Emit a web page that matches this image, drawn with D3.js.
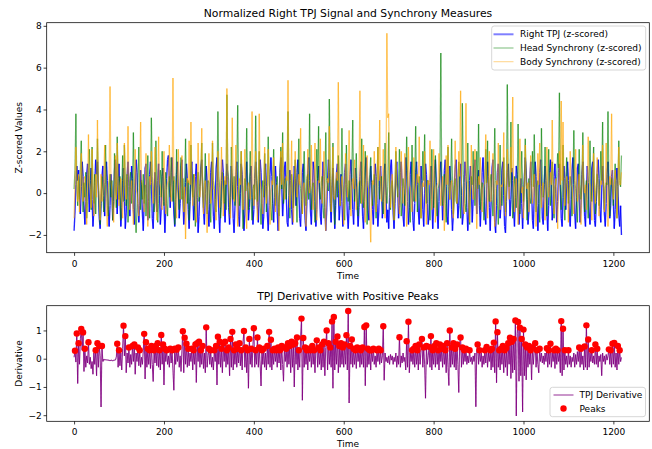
<!DOCTYPE html>
<html><head><meta charset="utf-8">
<script src="https://cdn.jsdelivr.net/npm/d3@7"></script>
<style>
body{margin:0;background:#fff}
svg{display:block}
text{font-family:"DejaVu Sans",sans-serif;fill:#000}
</style>
</head><body>
<svg id="c" width="652" height="449"></svg>
<script>
// ---- data (all series sampled every 2 time units) ----
const topStep = 2;
const derivStep = 2;
const timeRange = [0, 1219];

const tpj = [
-1.8,-0.9,0.4,1.3,0.6,1.1,-0.2,-1.0,0.3,1.5,0.8,-0.6,-1.5,-0.4,0.9,1.4,0.2,-0.9,0.6,1.2,-0.3,-1.6,-0.8,0.5,1.6,0.9,1.5,0.1,-1.2,-1.7,-0.5,0.8,1.3,-0.1,-1.1,0.4,1.5,0.6,-0.8,-1.6,-0.6,0.9,0.2,-1.3,-0.4,1.1,1.6,0.3,-1.0,0.7,
1.4,-0.2,-1.6,-0.7,0.6,1.2,-0.4,-1.7,-0.9,0.8,1.5,0.3,-1.1,0.2,1.3,0.7,-0.8,-1.5,0.1,1.6,1.0,-0.5,-1.4,-0.6,1.1,0.4,-1.0,-1.8,-0.3,1.2,1.4,0.0,-1.3,-0.4,0.9,1.5,0.5,-1.2,-1.7,-0.2,1.0,0.3,-0.9,0.6,1.4,-0.1,-1.5,-0.7,0.8,1.2,
-0.4,-1.9,-0.8,0.7,1.6,1.8,0.6,-0.7,1.0,1.7,0.4,-1.0,-1.6,-0.3,0.9,1.5,0.2,-1.2,-0.5,1.3,1.6,-0.1,-1.5,-0.9,0.5,1.4,0.7,-0.8,-1.7,-0.4,1.1,1.5,0.1,-1.3,-0.6,0.8,1.4,-0.2,-1.9,-1.1,0.3,1.2,1.6,0.4,-0.9,-1.5,0.0,1.3,0.6,-0.8,
-1.6,-0.5,1.0,1.5,0.2,-1.1,-1.7,-0.3,1.2,1.7,0.5,-0.9,-1.9,-0.8,0.6,1.6,1.0,-0.4,-1.4,0.1,1.4,0.8,-0.7,-1.5,-0.2,1.3,0.4,-1.2,-1.9,-0.6,0.9,1.5,0.3,-1.1,-1.6,0.0,1.4,0.9,-0.6,-1.8,-1.0,0.5,1.5,0.2,-1.3,-0.7,0.8,1.3,-0.2,-1.5,
-0.8,0.7,1.5,0.6,-0.6,-1.4,0.1,1.6,1.0,-0.5,-1.7,-1.1,0.4,1.4,0.3,-1.0,-1.8,-0.6,0.9,1.7,0.8,-0.5,-1.4,-0.2,1.3,0.5,-0.9,-1.8,-0.7,1.0,1.7,0.4,-1.1,-0.3,1.2,1.5,0.0,-1.4,-1.6,-0.1,1.1,0.6,-0.8,-1.5,0.2,1.3,0.7,-0.6,1.0,1.6,
0.2,-1.2,-1.6,-0.3,1.0,1.4,0.1,-1.3,-1.8,-0.4,1.1,1.7,0.6,-0.9,-1.5,0.0,1.5,1.1,-0.4,-1.6,-0.8,0.7,1.3,0.2,-1.1,-1.5,0.3,1.5,0.8,-0.7,-1.8,-0.9,0.6,1.6,1.0,-0.5,-1.4,0.2,1.2,-0.1,-1.7,-0.6,1.0,1.4,0.0,-1.3,-0.5,0.9,-0.4,-1.6,
-0.5,1.0,1.4,0.4,-1.0,-1.7,-0.6,0.9,1.6,0.5,-0.8,-1.5,-0.2,1.2,0.7,-0.6,-1.6,-0.7,0.8,1.5,0.3,-1.1,-1.7,-0.4,1.2,1.7,0.6,-0.9,-1.3,0.2,1.3,0.5,-0.8,-1.5,0.1,1.4,0.8,-0.5,-1.6,-0.9,0.6,1.3,0.2,-1.2,-0.4,1.1,1.4,-0.1,-1.4,-0.8,
-1.7,-0.2,1.2,1.6,0.4,-1.0,-1.7,-0.5,0.9,1.5,0.2,-1.2,-0.6,1.0,1.5,0.3,-1.1,-1.6,0.0,1.7,1.1,-0.4,-1.5,-0.7,0.9,1.5,0.2,-1.3,-1.8,-0.5,1.0,1.5,0.4,-0.9,-1.5,-0.2,1.3,0.6,-0.8,-1.6,0.0,1.4,0.9,-0.5,-1.5,-1.0,0.5,1.3,-0.3,-1.7,
-0.6,1.1,1.6,0.5,-0.9,-1.7,-0.4,1.0,1.5,0.1,-1.3,-0.5,1.1,1.6,0.3,-1.1,-1.5,0.0,1.3,0.6,-0.8,-1.8,-1.0,0.4,1.2,1.6,0.2,-1.2,-0.6,0.9,1.4,-0.1,-1.5,-1.0,0.5,1.5,0.8,-0.7,-1.8,-0.9,0.6,1.3,0.1,-1.4,-0.3,1.2,1.6,0.4,-1.0,0.7,
1.1,-0.6,-1.6,-0.4,1.0,1.7,0.5,-1.0,-1.5,0.1,1.5,0.8,-0.7,-1.8,-0.3,1.2,1.6,0.0,-1.4,-1.9,-0.6,1.0,1.4,0.3,-1.2,-0.5,1.1,1.5,-0.1,-1.6,-1.9,-0.4,1.0,1.4,0.2,-1.1,-0.3,1.2,0.6,-0.9,-1.6,-0.2,1.3,0.9,-0.6,-1.5,-0.8,0.7,-0.5,-1.7,
-0.7,0.8,1.7,1.1,-0.3,-1.5,-0.9,0.6,1.5,0.2,-1.3,-1.7,0.1,1.5,0.8,-0.6,-1.8,-0.5,1.0,1.6,0.3,-1.2,-1.5,0.4,1.3,0.6,-0.9,-1.8,-0.6,1.1,1.6,0.2,-1.3,-0.7,0.8,1.4,0.0,-1.4,-0.4,1.0,1.4,0.1,-1.2,-1.6,-0.2,1.3,0.7,-0.8,0.5,1.5,
0.6,-1.0,-1.6,-0.3,1.1,1.7,0.4,-1.0,-1.7,-0.2,1.2,1.4,0.0,-1.4,-0.6,0.9,1.5,0.3,-1.1,-1.6,0.1,1.3,0.5,-0.9,-1.5,-0.3,1.2,1.5,0.2,-1.3,-1.6,-0.4,1.0,1.6,0.7,-0.8,-1.4,0.1,1.3,0.4,-1.0,-1.6,-0.5,0.9,1.5,0.2,-1.2,-0.6,0.8,1.1,
-0.5,-1.7,-0.8,0.6,1.2,0.3,-1.0,-1.6,-0.6,-2.0
];

const headSync = [
0.2,1.1,3.8,0.4,-0.6,0.8,-0.3,1.2,2.5,0.1,-0.9,0.5,-0.2,1.0,-1.2,-0.4,0.7,2.1,0.3,-0.8,2.2,0.2,-0.5,0.9,-1.0,0.4,2.6,0.6,-0.7,-1.5,-0.4,0.8,0.1,-0.9,0.5,2.3,0.2,-0.6,-1.1,0.3,0.9,-0.2,0.6,-1.3,-0.5,1.9,0.4,-0.7,2.7,0.5,
-0.3,0.8,-1.3,0.1,1.8,-0.4,2.3,0.4,-0.6,0.9,-1.4,-0.2,0.7,1.0,-0.5,0.3,2.9,0.2,-1.0,-1.9,-0.7,0.5,2.2,0.1,-0.8,0.6,-0.3,0.9,-0.5,0.4,-1.1,0.2,1.8,-0.2,-1.2,0.5,3.6,0.8,0.2,-0.9,-0.3,2.5,0.4,-1.4,-0.5,0.6,1.1,-0.2,2.0,0.3,
-0.6,0.4,1.0,-0.5,-1.1,0.3,0.8,-0.2,1.7,0.5,-0.4,0.8,-1.5,-0.6,2.1,0.2,0.0,-0.8,0.6,1.7,-0.3,0.7,-0.9,0.4,2.6,0.3,-0.5,0.6,-1.3,-0.2,2.3,0.4,-0.2,0.9,-0.6,-1.6,-0.3,0.4,1.0,-0.4,0.2,0.9,2.4,0.1,-0.7,0.5,1.9,-0.3,-1.0,0.6,
0.5,-0.4,-1.4,0.2,2.4,0.6,0.2,-0.7,-0.9,0.5,3.9,0.8,0.3,-1.2,-0.4,1.0,0.2,-0.5,0.6,-0.8,4.7,1.1,0.6,-1.0,-0.2,2.2,0.5,-0.3,0.8,-0.6,0.3,1.0,4.2,0.4,-0.6,0.7,2.0,-0.5,-1.7,-0.4,0.7,0.1,3.1,0.6,-0.8,0.3,2.0,-0.4,-1.3,0.2,
0.4,-0.3,3.7,0.6,-0.4,0.9,2.0,-0.6,-1.5,0.1,0.6,-0.2,1.9,0.3,-0.9,0.5,2.7,0.4,0.1,-0.8,-1.3,0.2,2.1,0.5,-0.6,0.3,0.8,-0.4,-1.1,0.6,2.2,0.2,2.9,-0.5,0.4,0.7,-0.3,0.9,3.9,0.5,-1.2,-0.2,0.9,0.3,-0.7,0.4,1.6,-0.1,-1.4,0.5,
2.6,0.6,0.2,-0.5,-1.0,0.4,2.0,0.2,-0.6,0.7,0.9,-0.3,3.8,0.5,-0.8,0.2,0.5,-0.6,-1.4,0.3,2.1,0.6,3.2,0.1,-0.3,0.5,0.8,-0.7,-1.2,0.4,2.9,0.6,0.4,0.1,4.5,0.7,-0.9,0.4,2.4,-0.5,-1.5,0.2,0.7,-0.2,1.8,0.5,-0.6,0.3,3.1,0.4,
-0.2,-1.3,0.4,2.3,0.3,-0.4,0.6,-0.8,0.2,1.0,3.5,0.3,-0.4,0.6,1.9,-0.2,-1.1,0.3,0.6,-0.5,2.6,0.4,-0.7,0.6,2.0,0.1,-1.5,-0.4,0.4,0.9,1.7,0.2,-0.6,0.5,0.9,-0.3,-1.2,0.4,2.2,0.3,-0.3,0.6,0.8,-0.4,-1.0,0.2,2.4,0.4,-0.5,0.3,
2.9,0.5,-0.8,0.3,0.6,-0.4,-1.3,0.2,2.0,0.6,-0.2,0.5,2.1,0.3,-1.1,-0.3,0.7,0.2,-0.6,0.4,2.7,0.8,0.1,-0.6,-1.4,0.2,2.3,0.5,-0.4,0.6,3.2,0.4,-0.9,0.3,0.8,-0.3,-1.2,0.4,2.0,0.6,2.8,0.3,-0.5,0.6,0.6,-0.4,-1.3,0.2,2.1,0.5,
-0.7,0.4,1.8,-0.3,-1.1,0.2,0.4,0.9,6.7,0.8,-0.6,0.3,0.9,-0.5,-1.4,0.4,2.2,0.3,-0.3,0.6,2.6,0.5,-1.0,0.2,0.7,-0.4,-0.5,0.6,1.5,0.2,-1.2,0.5,4.3,0.9,0.2,-0.5,-0.9,0.4,2.4,0.3,-1.5,-0.2,0.8,0.4,2.0,0.3,-0.6,0.5,2.0,0.2,
3.3,0.6,-0.8,0.2,0.5,-0.4,-1.3,0.3,2.1,0.5,2.5,0.3,-0.4,0.6,0.9,-0.3,-1.1,0.4,3.1,0.6,0.2,-0.5,-1.5,0.3,2.3,0.4,-0.6,0.2,1.7,0.3,-0.9,0.4,5.2,0.9,0.3,0.6,3.4,0.2,-1.2,-0.3,0.8,0.2,-0.7,0.4,3.3,0.5,-1.0,0.3,2.0,0.4,
-0.4,0.5,2.6,0.4,-1.3,0.2,0.7,-0.2,-0.5,0.6,2.0,0.3,2.8,0.4,-0.9,0.3,0.6,-0.4,-1.4,0.2,3.1,0.5,-0.2,0.4,2.2,0.3,-1.1,0.2,2.1,0.3,-0.6,0.4,1.5,0.2,-1.2,0.3,0.4,0.8,1.9,1.2,4.8,0.6,-0.8,0.4,2.3,-0.3,-1.3,0.3,1.7,0.4,
-0.5,0.3,0.8,0.2,-1.1,0.4,3.0,0.6,0.2,-0.4,-1.4,0.3,2.1,0.4,-0.3,0.5,2.9,0.4,-0.9,0.2,0.6,-0.3,-1.2,0.4,2.5,0.3,-0.4,0.5,2.2,0.2,-1.0,0.3,0.9,0.4,-0.6,0.2,2.0,0.6,3.4,0.5,-0.8,0.2,0.5,0.4,3.9,0.6,-1.1,0.3,0.7,0.2,
-0.6,0.4,1.4,0.3,-1.2,0.2,2.5,0.6,0.3,1.8
];

const bodySync = [
-1.2,0.3,2.2,0.6,-0.4,0.9,-0.9,0.2,1.9,0.4,-0.4,0.7,0.8,-0.6,-1.5,0.2,2.8,0.5,0.2,-0.7,2.1,0.3,-1.1,0.4,0.9,-0.2,3.5,0.5,-0.3,-1.3,0.9,-0.4,-0.2,0.6,2.3,0.2,-0.9,-1.6,0.3,0.7,5.1,0.6,0.1,-0.8,-1.4,0.2,1.8,-0.3,2.4,0.4,
-0.6,0.4,0.7,-0.5,-1.2,0.3,2.4,0.5,-0.3,0.6,3.2,0.4,-0.8,0.2,0.6,-0.4,-1.5,0.3,2.1,0.2,0.0,-0.6,-1.1,0.4,3.4,0.6,0.4,-0.5,-0.9,0.3,1.9,0.2,-1.6,-0.3,0.8,0.4,2.0,0.3,-0.5,0.6,2.2,-0.2,-1.3,0.3,2.7,0.5,0.3,-0.6,-0.8,0.4,
2.0,0.3,-1.0,0.2,0.5,0.6,2.3,0.4,-0.4,0.2,5.5,0.6,0.6,-0.5,-1.2,0.3,2.1,0.2,-0.3,0.5,1.8,-0.2,-0.9,0.3,-2.2,-0.4,0.7,0.5,2.5,0.4,3.4,0.5,-0.6,0.3,0.9,-0.5,-1.4,0.2,2.4,0.4,-0.2,0.3,3.1,0.4,-1.0,0.2,0.6,-0.5,-1.9,0.3,
1.9,0.4,-0.5,0.3,2.5,0.2,0.2,-0.6,-1.3,0.4,2.0,0.3,-0.7,0.5,2.2,0.4,-1.1,0.2,0.8,0.4,5.0,0.7,0.3,-0.5,-1.2,0.4,3.6,0.5,-0.4,0.3,2.3,-0.5,-1.6,0.2,0.7,0.4,2.0,0.3,-0.8,0.4,2.1,-0.4,-1.7,0.2,0.5,0.3,-0.3,0.6,3.9,0.5,
-0.6,0.4,2.0,-0.3,-1.3,0.2,3.8,0.6,0.2,-0.5,-1.0,0.3,2.2,0.4,-0.5,0.3,2.1,0.4,-1.5,-0.2,0.6,0.4,1.7,0.5,-0.9,0.2,0.4,-0.6,-1.8,0.3,2.0,0.4,2.4,0.5,-0.3,0.4,0.8,0.6,5.4,0.5,-0.7,0.3,2.5,-0.4,-1.4,0.2,2.0,0.4,-0.2,0.3,
0.9,0.4,3.1,0.5,-1.0,0.3,0.5,-0.6,-1.6,0.2,2.1,0.4,0.0,0.3,2.3,0.4,-0.8,0.3,2.4,-0.4,-1.3,0.2,0.6,0.5,2.6,0.4,-0.5,0.3,2.0,-0.6,-1.8,0.2,0.7,0.5,3.2,0.6,-0.9,0.3,2.2,-0.2,-0.3,0.4,1.0,0.6,5.3,0.5,-0.6,0.3,0.8,0.2,
-1.5,0.3,1.9,0.4,-0.2,0.5,3.0,0.4,-1.1,0.3,0.7,0.2,1.6,0.4,-0.8,0.3,0.4,0.6,4.9,0.5,-0.5,0.3,2.3,-0.4,-1.4,0.2,1.8,0.3,0.2,-0.9,-2.35,-0.4,0.6,0.4,2.0,0.3,-0.9,0.4,2.2,0.6,3.5,0.5,-0.4,0.3,2.1,-0.5,-1.2,0.4,7.65,3.6,
3.8,0.5,-0.7,0.3,0.9,-0.4,-1.3,0.2,2.2,0.4,0.1,-0.5,-1.0,0.3,2.0,0.4,-0.5,0.3,1.9,-0.4,-1.6,0.2,2.2,0.4,0.3,-0.5,-0.9,0.3,1.7,0.4,-0.4,0.3,0.9,0.5,2.7,0.4,-1.2,0.2,0.5,0.3,2.0,-0.3,-1.5,0.2,0.6,0.4,2.5,0.3,-0.8,0.4,
2.1,0.3,-1.4,0.2,0.4,0.5,1.9,0.4,-0.6,0.3,0.8,-0.5,-1.8,0.2,1.8,0.4,2.3,0.5,-0.3,0.4,0.6,-0.4,-1.2,0.3,2.5,0.4,-0.5,0.3,2.0,0.8,4.9,0.5,0.2,-0.6,-1.0,0.4,4.3,0.6,0.5,-0.5,-1.4,0.3,2.3,0.4,-0.3,0.5,2.1,0.4,-1.7,0.2,
0.8,0.4,1.7,0.3,-0.9,0.2,0.4,0.5,2.8,0.4,-1.2,0.3,2.0,-0.4,-0.4,0.3,1.9,0.4,-1.6,0.2,0.6,0.4,2.4,0.3,-0.8,0.4,0.3,0.5,2.9,0.4,-1.1,0.3,2.1,0.4,-0.3,0.5,2.2,1.0,4.6,0.5,-0.9,0.3,0.7,-0.4,-1.5,0.2,2.6,0.4,0.0,0.3,
-1.2,0.3,2.3,0.4,0.2,0.5,-0.9,0.3,1.8,0.4,-0.5,0.3,0.9,-0.4,-1.6,0.2,1.9,0.4,2.4,0.5,-0.7,0.3,0.5,-0.4,-1.3,0.2,2.2,0.4,-0.2,0.3,1.0,0.4,3.5,0.5,-1.0,0.3,0.7,-0.5,-1.7,0.2,2.0,0.4,4.4,0.6,3.4,0.4,-0.6,0.3,0.8,0.2,
-1.4,0.3,2.0,0.4,0.3,-0.5,-1.0,0.2,2.1,0.4,-0.4,0.3,0.9,-0.5,-1.5,0.2,2.3,0.3,0.0,0.4,-0.8,0.3,2.7,0.5,0.4,-0.5,-1.3,0.2,1.9,0.3,-0.5,0.4,1.7,0.3,-1.1,0.2,0.6,0.4,2.3,0.5,-0.9,0.3,2.4,0.4,-1.6,0.2,0.8,0.4,3.8,0.5,
-0.3,0.4,1.1,0.3,-1.2,0.2,2.2,0.4,0.4,1.0
];

const tpjDeriv = [
0.05,0.28,-0.12,0.89,-0.88,0.55,-0.2,0.7,1.05,0.3,0.93,-0.45,0.35,-0.3,0.1,-0.15,0.58,-0.2,0.05,-0.35,-0.1,-0.55,0.2,-0.2,0.3,-0.6,0.55,-0.3,0.45,0.1,-1.71,0.45,-0.1,-0.02,-0.05,-0.03,-0.05,-0.04,-0.06,-0.05,-0.07,-0.05,-0.06,-0.08,-0.05,-0.06,-0.04,0.05,0.53,-0.3,
0.3,-0.25,0.2,-0.4,0.35,1.17,0.1,0.8,-0.5,0.2,-0.15,0.4,-0.3,0.15,-0.2,0.45,-0.1,0.5,-0.55,0.2,-0.1,0.4,-0.25,0.3,-0.3,0.05,-0.2,0.3,0.88,-0.72,0.58,-0.3,0.35,-0.2,0.3,-0.35,0.45,-0.2,-0.81,0.3,-0.15,0.45,-0.25,0.55,-0.3,0.3,-0.4,0.84,-0.2,0.5,
-0.93,0.35,-0.1,0.3,-0.2,0.1,-0.3,0.35,-0.15,0.3,-0.4,-1.12,0.35,-0.2,0.32,-0.1,0.4,-0.3,0.1,-0.45,0.3,0.97,-0.5,0.74,-0.2,0.53,-0.3,0.35,-0.25,0.2,-0.1,0.35,-0.4,0.3,-0.2,0.5,-0.84,0.55,-0.1,0.6,-0.3,0.3,-0.2,0.45,-0.35,0.2,-0.5,1.11,-0.3,0.1,
0.35,-0.2,0.3,-0.3,0.05,-0.4,0.3,-0.1,0.45,-0.93,0.78,-0.2,0.6,-0.3,0.35,-0.5,0.55,-0.1,0.6,-0.3,0.3,-0.2,0.4,-0.6,0.7,-0.3,0.95,-0.4,0.3,-0.2,0.5,-0.3,0.35,-0.15,0.55,-0.25,0.3,-0.4,0.6,0.98,-0.3,0.4,-0.5,0.3,-1.05,0.7,-0.2,0.35,-0.3,0.5,
1.08,-0.3,0.3,-0.2,0.75,-0.3,0.4,-0.2,-0.97,0.3,-0.2,0.35,-0.3,0.2,-0.4,0.45,-0.2,0.95,-0.3,0.67,-0.4,0.3,-0.2,0.35,-0.1,0.3,-0.3,0.4,-0.15,0.3,-0.4,0.45,-0.2,-0.8,0.4,-0.1,0.35,-0.3,0.55,-0.2,0.45,-0.5,0.6,-0.3,0.5,-1.0,0.55,-0.2,0.75,-0.4,
0.3,-0.3,0.73,1.42,-1.47,0.73,-0.3,0.4,-0.2,0.3,-0.4,0.35,-0.1,0.3,-0.3,0.45,-0.2,0.3,-0.5,0.35,0.65,-0.3,0.4,-0.2,0.3,-0.4,0.5,-0.3,0.6,-0.6,0.4,1.0,-0.4,0.55,-0.2,0.4,-0.3,1.32,-1.05,1.48,-0.4,0.6,-0.2,0.79,-0.5,0.45,-0.3,0.55,-0.2,0.4,
-0.3,0.5,-0.2,0.83,-0.4,1.69,-1.57,0.45,-0.2,0.68,-0.3,0.35,-0.2,0.3,-0.35,0.4,-0.1,0.35,-0.3,0.3,-0.2,0.4,-0.3,1.12,-0.96,1.18,-0.3,0.35,-0.2,0.3,-0.4,0.3,-0.1,0.35,-0.2,0.1,-0.3,0.3,-0.1,0.35,-0.2,0.3,-0.15,0.1,1.15,-0.76,0.2,-0.1,0.05,-0.15,
0.1,-0.2,0.15,-0.05,0.1,-0.2,0.05,-0.1,0.2,-0.3,0.1,-0.2,0.76,-0.3,0.1,-0.15,0.2,-0.1,0.05,-0.4,0.62,-0.3,1.31,-0.5,0.2,-0.1,0.3,-0.2,0.35,-0.3,0.45,-0.2,0.3,-0.4,0.5,-0.2,0.35,0.7,-0.3,0.4,-0.2,-1.4,0.45,-0.2,0.1,0.42,-0.3,0.8,-0.4,0.3,
-0.2,0.45,-0.3,0.55,-0.2,0.3,-0.4,0.5,-0.1,0.35,-0.3,0.45,-0.2,0.3,-0.5,0.55,-0.3,-0.95,1.0,-0.3,0.4,-0.2,0.55,-0.3,0.35,-0.4,0.5,-0.2,-1.2,0.6,0.75,-0.3,0.4,-0.2,0.3,-0.1,0.35,-0.2,0.1,-0.15,0.3,-0.1,0.05,-0.2,0.1,-0.1,0.2,-1.7,0.3,0.5,
-0.2,0.3,-0.1,0.2,-0.3,0.1,-0.2,0.3,-0.15,0.42,-0.3,0.2,-0.1,0.3,-0.4,0.35,-0.3,0.57,-0.5,1.32,-0.85,0.94,-0.3,0.3,-0.4,0.35,-0.2,0.45,-0.5,0.3,-0.3,0.38,-0.6,0.55,-0.2,0.74,-0.7,0.6,-0.5,0.7,-0.4,1.35,-2.03,0.9,1.3,-0.8,1.1,-0.6,0.7,-1.89,
1.03,-0.6,0.5,-0.75,0.4,-0.3,0.45,-0.2,0.3,-0.75,0.4,-0.2,0.3,0.55,-0.3,0.3,-0.2,-0.5,0.35,-0.1,0.2,-0.15,0.1,-0.2,0.2,-0.1,0.37,-0.3,0.3,-0.2,0.53,-0.3,0.2,-0.1,0.3,-0.35,0.35,-0.2,0.3,-0.1,0.2,-0.5,1.33,-0.6,1.06,-0.4,0.3,-0.2,0.1,-0.3,
0.3,-0.2,0.1,-0.3,0.05,-0.1,0.2,-0.3,0.15,-0.2,0.25,-0.1,0.4,-0.3,0.35,-0.2,0.1,-0.4,0.43,-0.3,1.18,-0.4,0.68,-0.3,0.2,-0.1,0.3,-0.15,0.1,-0.2,0.5,-0.2,0.35,-0.3,0.1,-0.1,0.15,-0.6,0.2,-0.1,0.1,-0.2,0.15,-0.05,0.1,0.33,-0.2,0.3,-0.3,0.53,
-0.2,0.56,-0.3,0.2,-0.4,0.45,-0.2,0.3,-0.1,0.05
];

const peakThreshold = 0.25;
const xTicks = [0, 200, 400, 600, 800, 1000, 1200];
const topYTicks = [-2, 0, 2, 4, 6, 8];
const botYTicks = [-2, -1, 0, 1];
const topTitle = "Normalized Right TPJ Signal and Synchrony Measures";
const botTitle = "TPJ Derivative with Positive Peaks";
const topNames = ["Right TPJ (z-scored)", "Head Synchrony (z-scored)", "Body Synchrony (z-scored)"];
const botNames = ["TPJ Derivative", "Peaks"];

// ---- layout ----
const svg = d3.select("#c");
const L = 46.7, R = 649.3;
const P1 = {t: 22.7, b: 252.7};
const P2 = {t: 305.7, b: 421.3};
const FS = 9, TFS = 10.8, TICK = 3.15;

function pad(e){ const r = e[1]-e[0]; return [e[0]-0.05*r, e[1]+0.05*r]; }

const x = d3.scaleLinear().domain(pad(timeRange)).range([L, R]);
const yT = d3.scaleLinear().domain(pad(d3.extent(tpj.concat(headSync, bodySync)))).range([P1.b, P1.t]);
const yB = d3.scaleLinear().domain(pad(d3.extent(tpjDeriv))).range([P2.b, P2.t]);

// each segment drawn separately so overlapping translucent strokes build up
function segs(g, data, step, y, color, op, w){
  const pts = data.map((v,i)=>[x(i*step), y(v)]);
  g.append("g").attr("stroke",color).attr("stroke-opacity",op).attr("stroke-width",w).attr("stroke-linecap","butt")
    .selectAll("line").data(d3.pairs(pts)).join("line")
    .attr("x1",d=>d[0][0]).attr("y1",d=>d[0][1]).attr("x2",d=>d[1][0]).attr("y2",d=>d[1][1]);
}

function drawAxes(P, y, yTicks, title, ylabel){
  const gx = svg.append("g").attr("transform", `translate(0,${P.b})`)
    .call(d3.axisBottom(x).tickValues(xTicks).tickSize(TICK).tickPadding(2.5).tickFormat(d3.format("d")));
  gx.select(".domain").remove();
  gx.selectAll("line").attr("stroke","#000").attr("stroke-width",0.75);
  gx.selectAll("text").attr("font-size",FS).attr("font-family","DejaVu Sans").attr("dy","0.95em");
  const gy = svg.append("g").attr("transform", `translate(${L},0)`)
    .call(d3.axisLeft(y).tickValues(yTicks).tickSize(TICK).tickPadding(1.8).tickFormat(d=>d<0?"\u2212"+Math.abs(d):d));
  gy.select(".domain").remove();
  gy.selectAll("line").attr("stroke","#000").attr("stroke-width",0.75);
  gy.selectAll("text").attr("font-size",FS).attr("font-family","DejaVu Sans");
  svg.append("rect").attr("x",L).attr("y",P.t).attr("width",R-L).attr("height",P.b-P.t)
    .attr("fill","none").attr("stroke","#000").attr("stroke-width",0.75);
  svg.append("text").attr("x",(L+R)/2).attr("y",P.t-5.6).attr("text-anchor","middle")
    .attr("font-size",TFS).text(title);
  svg.append("text").attr("x",(L+R)/2).attr("y",P.b+26).attr("text-anchor","middle")
    .attr("font-size",FS).text("Time");
  svg.append("text").attr("transform",`translate(19,${(P.t+P.b)/2}) rotate(-90)`)
    .attr("text-anchor","middle").attr("dy","0.35em").attr("font-size",FS).text(ylabel);
}

// ---- top panel ----
const gTop = svg.append("g");
segs(gTop, tpj, topStep, yT, "#0000ff", 0.85, 1.35);
segs(gTop, headSync, topStep, yT, "#008000", 0.55, 1.25);
segs(gTop, bodySync, topStep, yT, "#ffa500", 0.55, 1.25);
drawAxes(P1, yT, topYTicks, topTitle, "Z-scored Values");

const lg1 = svg.append("g");
lg1.append("rect").attr("x",491.7).attr("y",26).attr("width",154).attr("height",44).attr("rx",2.5)
  .attr("fill","#fff").attr("fill-opacity",0.8).attr("stroke","#cccccc").attr("stroke-width",0.8);
const legCols = [{c:"#0000ff",o:0.5,w:2.0},{c:"#008000",o:0.5,w:1.05},{c:"#ffa500",o:0.45,w:1.05}];
const legY1 = [34.3, 48, 61.7];
topNames.forEach((n,i)=>{
  lg1.append("line").attr("x1",493.5).attr("x2",513.5).attr("y1",legY1[i]).attr("y2",legY1[i])
    .attr("stroke",legCols[i].c).attr("stroke-opacity",legCols[i].o).attr("stroke-width",legCols[i].w);
  lg1.append("text").attr("x",520).attr("y",legY1[i]).attr("dy","0.35em").attr("font-size",FS).text(n);
});

// ---- bottom panel ----
const peaks = [];
for (let i = 1; i < tpjDeriv.length-1; i++){
  const v = tpjDeriv[i];
  if (v > tpjDeriv[i-1] && v > tpjDeriv[i+1] && v > peakThreshold) peaks.push({t:i*derivStep, v});
}
const gBot = svg.append("g");
segs(gBot, tpjDeriv, derivStep, yB, "#800080", 0.85, 1.1);
svg.append("g").selectAll("circle").data(peaks).join("circle")
  .attr("cx",d=>x(d.t)).attr("cy",d=>yB(d.v)).attr("r",3.2).attr("fill","#ff0000");
drawAxes(P2, yB, botYTicks, botTitle, "Derivative");

const lg2 = svg.append("g");
lg2.append("rect").attr("x",550).attr("y",387.3).attr("width",95.5).attr("height",29.4).attr("rx",2.5)
  .attr("fill","#fff").attr("fill-opacity",0.8).attr("stroke","#cccccc").attr("stroke-width",0.8);
lg2.append("line").attr("x1",553.5).attr("x2",573.5).attr("y1",395).attr("y2",395)
  .attr("stroke","#800080").attr("stroke-opacity",0.75).attr("stroke-width",1.1);
lg2.append("text").attr("x",579.5).attr("y",395).attr("dy","0.35em").attr("font-size",FS).text(botNames[0]);
lg2.append("circle").attr("cx",563.5).attr("cy",408.5).attr("r",3.2).attr("fill","#ff0000");
lg2.append("text").attr("x",579.5).attr("y",408.5).attr("dy","0.35em").attr("font-size",FS).text(botNames[1]);
</script>
</body></html>
